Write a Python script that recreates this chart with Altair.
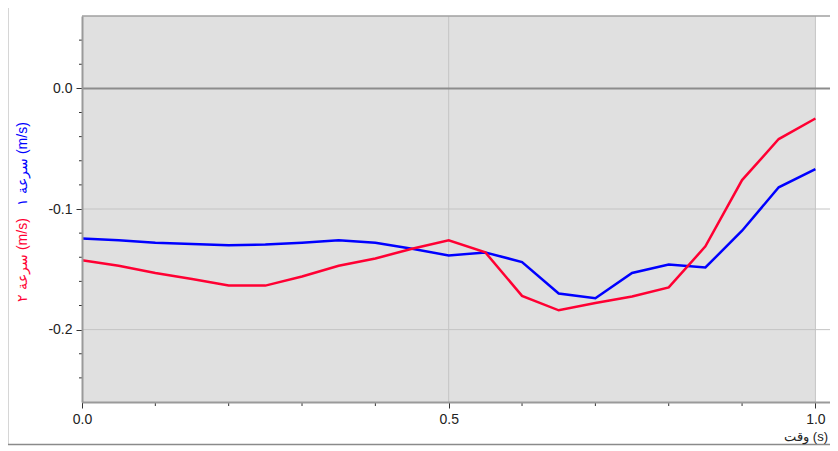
import altair as alt
import pandas as pd

# ---- data ----
time_s = [0.0, 0.05, 0.1, 0.15, 0.2, 0.25, 0.3, 0.35, 0.4, 0.45, 0.5,
          0.55, 0.6, 0.65, 0.7, 0.75, 0.8, 0.85, 0.9, 0.95, 1.0]
speed1 = [-0.1245, -0.126, -0.128, -0.129, -0.130, -0.1295, -0.128, -0.126, -0.128, -0.133, -0.1385,
          -0.136, -0.144, -0.170, -0.174, -0.153, -0.146, -0.1485, -0.118, -0.082, -0.067]
speed2 = [-0.1425, -0.147, -0.153, -0.158, -0.1635, -0.1635, -0.156, -0.147, -0.141, -0.133, -0.126,
          -0.136, -0.172, -0.184, -0.178, -0.1725, -0.165, -0.131, -0.076, -0.042, -0.025]
series_names = ["سرعة ١ (m/s)", "سرعة ٢ (m/s)"]
series_colors = ["#0000FF", "#FF0033"]
x_title = "وقت (s)"

x_major = [0.0, 0.5, 1.0]
x_minor = [0.1, 0.2, 0.3, 0.4, 0.6, 0.7, 0.8, 0.9]
y_major = [-0.2, -0.1, 0.0]
y_minor = [-0.24, -0.22, -0.18, -0.16, -0.14, -0.12, -0.08, -0.06,
           -0.04, -0.02, 0.02, 0.04]
x_domain = [0.0, 1.0199]
y_domain = [-0.26, 0.06]
h_grid = [-0.1, -0.2]
zero_line = [0.0]
v_grid = [0.5, 1.0]
shade_x = [0.0, 1.0]

W, H = 748, 386

rows = []
for t, a, b in zip(time_s, speed1, speed2):
    rows.append({"t": t, "v": a, "s": series_names[0]})
    rows.append({"t": t, "v": b, "s": series_names[1]})
df = pd.DataFrame(rows)

xs = alt.Scale(domain=x_domain, nice=False, zero=False)
ys = alt.Scale(domain=y_domain, nice=False, zero=False)

x_axis = alt.Axis(
    values=x_major, title=None, grid=False, zindex=1,
    domainColor="#9a9a9a", domainWidth=2,
    tickColor="#333333", tickWidth=1, tickSize=6,
    format=".1f",
    labelFont="Liberation Sans", labelFontSize=14, labelColor="#222222",
    labelPadding=4, labelFlush=False, labelOverlap=False,
)
y_axis = alt.Axis(
    values=y_major, title=None, grid=False, zindex=1,
    domainColor="#9a9a9a", domainWidth=2,
    tickColor="#333333", tickWidth=1, tickSize=6,
    labelExpr="(datum.value < -0.001 ? '-' : '') + format(abs(datum.value), '.1f')",
    labelFont="Liberation Sans", labelFontSize=14, labelColor="#222222",
    labelPadding=4, labelFlush=False, labelOverlap=False,
)

shade = alt.Chart(pd.DataFrame({"x0": [shade_x[0]], "x1": [shade_x[1]],
                                "y0": [y_domain[0]], "y1": [y_domain[1]]})).mark_rect(
    color="#E0E0E0").encode(
    x=alt.X("x0:Q", scale=xs, axis=x_axis), x2="x1:Q",
    y=alt.Y("y0:Q", scale=ys, axis=y_axis), y2="y1:Q")

hgrid = alt.Chart(pd.DataFrame({"y": h_grid})).mark_rule(color="#c4c4c4", strokeWidth=1).encode(
    y=alt.Y("y:Q", scale=ys, axis=y_axis))
vgrid = alt.Chart(pd.DataFrame({"x": v_grid})).mark_rule(color="#c4c4c4", strokeWidth=1).encode(
    x=alt.X("x:Q", scale=xs, axis=x_axis))
zline = alt.Chart(pd.DataFrame({"y": zero_line})).mark_rule(color="#8c8c8c", strokeWidth=2).encode(
    y=alt.Y("y:Q", scale=ys, axis=y_axis))
topline = alt.Chart(pd.DataFrame({"y": [y_domain[1]]})).mark_rule(color="#a0a0a0", strokeWidth=1.5).encode(
    y=alt.Y("y:Q", scale=ys, axis=y_axis))

y_minor_ticks = alt.Chart(pd.DataFrame({"y": y_minor})).mark_rule(color="#333333", strokeWidth=1).encode(
    y=alt.Y("y:Q", scale=ys, axis=y_axis), x=alt.value(-3), x2=alt.value(0))
x_minor_ticks = alt.Chart(pd.DataFrame({"x": x_minor})).mark_rule(color="#333333", strokeWidth=1).encode(
    x=alt.X("x:Q", scale=xs, axis=x_axis), y=alt.value(H), y2=alt.value(H + 4))

lines = alt.Chart(df).mark_line(strokeWidth=2.5).encode(
    x=alt.X("t:Q", scale=xs, axis=x_axis),
    y=alt.Y("v:Q", scale=ys, axis=y_axis),
    color=alt.Color("s:N", scale=alt.Scale(domain=series_names, range=series_colors), legend=None),
    order=alt.Order("t:Q"),
)

one = pd.DataFrame({"k": [0]})
frame_left = alt.Chart(one).mark_rule(color="#d6d6d6", strokeWidth=1).encode(
    x=alt.value(-73.5), y=alt.value(-8), y2=alt.value(429))
frame_bottom = alt.Chart(one).mark_rule(color="#8a8a8a", strokeWidth=1.5).encode(
    x=alt.value(-74), x2=alt.value(W), y=alt.value(428.5))

title_blue = alt.Chart(pd.DataFrame({"t": [series_names[0]]})).mark_text(
    angle=270, font="Liberation Sans", fontSize=14, color=series_colors[0],
    align="center", baseline="middle").encode(
    text="t:N", x=alt.value(-59), y=alt.value(148))
title_red = alt.Chart(pd.DataFrame({"t": [series_names[1]]})).mark_text(
    angle=270, font="Liberation Sans", fontSize=14, color=series_colors[1],
    align="center", baseline="middle").encode(
    text="t:N", x=alt.value(-59), y=alt.value(244))
xtitle = alt.Chart(pd.DataFrame({"t": [x_title]})).mark_text(
    font="Liberation Sans", fontSize=13, color="#222222",
    align="right", baseline="middle").encode(
    text="t:N", x=alt.value(W - 2), y=alt.value(421))

chart = alt.layer(
    shade, hgrid, vgrid, zline, topline, y_minor_ticks, x_minor_ticks, lines,
    frame_left, frame_bottom, title_blue, title_red, xtitle,
).properties(
    width=W, height=H,
    autosize=alt.AutoSizeParams(type="none"),
    padding={"left": 74, "top": 8, "right": 0, "bottom": 44},
).configure_view(stroke=None)

chart.save("out.html", embed_options={"renderer": "svg", "actions": False})
